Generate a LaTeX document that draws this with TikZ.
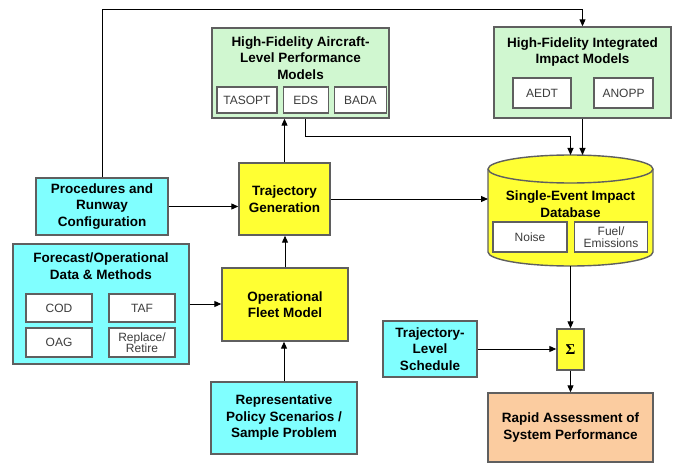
\documentclass[tikz,border=0pt]{standalone}
\usepackage{fontspec}
\setmainfont{Liberation Sans}
\newfontfamily\sigmafont{Liberation Serif}
\usetikzlibrary{arrows.meta,positioning}
\definecolor{boxcyan}{RGB}{128,255,255}
\definecolor{boxyellow}{RGB}{255,255,51}
\definecolor{boxgreen}{RGB}{208,247,208}
\definecolor{boxpeach}{RGB}{251,204,160}
\definecolor{boxborder}{RGB}{95,95,95}
\definecolor{toolgray}{RGB}{60,60,60}
\newcommand{\titlefont}{\fontsize{13.5}{16.5}\selectfont\bfseries}
\newcommand{\toolfont}{\fontsize{12}{11.5}\selectfont}

\begin{document}
\begin{tikzpicture}[->,>={Triangle[length=7pt,width=6pt]},x=1pt,y=-1pt,
  line width=1pt]
  \tikzstyle{box}=[rectangle,draw=boxborder,line width=1.4pt,inner sep=2pt,
    align=center,font=\titlefont]
  \tikzstyle{cyanbox}=[box,fill=boxcyan]
  \tikzstyle{yellowbox}=[box,fill=boxyellow]
  \tikzstyle{greenbox}=[box,fill=boxgreen]
  \tikzstyle{peachbox}=[box,fill=boxpeach]
  \tikzstyle{title}=[align=center,font=\titlefont,inner sep=0pt]
  \tikzstyle{tool}=[rectangle,draw=boxborder,line width=1.2pt,fill=white,
    inner sep=1pt,align=center,font=\toolfont,text=toolgray]

  \useasboundingbox (0,0) rectangle (679,465);

  % aircraft-level models
  \node[greenbox,minimum width=177pt,minimum height=90pt] (HFA) at (300.5,73) {};
  \node[title] (HFAt) at (300.5,58) {High-Fidelity Aircraft-\\Level Performance\\Models};
  \node[tool,minimum width=60pt,minimum height=26pt] (TASOPT) at (247,100) {TASOPT};
  \node[tool,minimum width=45pt,minimum height=26pt] (EDS) [right=5pt of TASOPT] {EDS};
  \node[tool,minimum width=52pt,minimum height=26pt] (BADA) [right=5pt of EDS] {BADA};

  % integrated impact models
  \node[greenbox,minimum width=177pt,minimum height=91pt] (HFI) at (582.5,72.5) {};
  \node[title] (HFIt) at (582.5,52) {High-Fidelity Integrated\\Impact Models};
  \node[tool,minimum width=58pt,minimum height=30pt] (AEDT) at (542,93) {AEDT};
  \node[tool,minimum width=59pt,minimum height=30pt] (ANOPP) at (623.5,93) {ANOPP};

  % database
  \filldraw[-,draw=boxborder,fill=boxyellow,line width=1.4pt]
    (488,169) -- (488,252) arc[start angle=180,end angle=0,x radius=82.5,y radius=14]
    -- (653,169) arc[start angle=0,end angle=-180,x radius=82.5,y radius=14] -- cycle;
  \draw[-,draw=boxborder,line width=1.4pt]
    (488,169) arc[start angle=180,end angle=0,x radius=82.5,y radius=14];
  \node[minimum width=165pt,minimum height=111pt,inner sep=0pt,outer sep=0pt] (DB) at (570.5,210.5) {};
  \node[title] (DBt) at (570.5,204) {Single-Event Impact\\Database};
  \node[tool,minimum width=74pt,minimum height=30pt] (NOISE) at (530,237) {Noise};
  \node[tool,minimum width=73pt,minimum height=30pt] (FUEL) at (611,237) {Fuel/\\Emissions};

  % main chain
  \node[yellowbox,minimum width=91pt,minimum height=72pt] (TG) at (284.5,199) {Trajectory\\Generation};
  \node[cyanbox,minimum width=132pt,minimum height=57pt] (PROC) at (102,206.5) {Procedures and\\Runway\\Configuration};

  \node[cyanbox,minimum width=176pt,minimum height=120pt] (FC) at (101,304) {};
  \node[title] (FCt) at (101,266) {Forecast/Operational\\Data \& Methods};
  \node[tool,minimum width=66pt,minimum height=28pt] (COD) at (59,308) {COD};
  \node[tool,minimum width=66pt,minimum height=28pt] (TAF) at (142,308) {TAF};
  \node[tool,minimum width=66pt,minimum height=29pt] (OAG) at (59,342.5) {OAG};
  \node[tool,minimum width=66pt,minimum height=29pt] (RR) at (142,342.5) {Replace/\\Retire};

  \node[yellowbox,minimum width=126pt,minimum height=73pt] (OFM) at (285,304.5) {Operational\\Fleet Model};
  \node[cyanbox,minimum width=146pt,minimum height=72pt] (REP) at (284,418) {Representative\\Policy Scenarios /\\Sample Problem};

  \node[cyanbox,minimum width=94pt,minimum height=56pt] (TLS) at (430,349) {Trajectory-\\Level\\Schedule};
  \node[yellowbox,minimum width=27pt,minimum height=41pt,inner sep=0pt] (SIG) at (570.5,349.5)
    {\sigmafont\fontsize{15}{15}\selectfont\bfseries Σ};
  \node[peachbox,minimum width=165pt,minimum height=69pt] (RAP) at (570.5,427.5) {Rapid Assessment of\\System Performance};

  \coordinate (TOP) at (0,10);
  \coordinate (MID) at (0,137);

  \draw (PROC.north) -- (PROC.north |- TOP) -| (HFI.north);
  \draw (EDS.south |- HFA.south) -- (EDS.south |- MID) -| (DB.north);

  \path
  (PROC.east) edge (PROC.east -| TG.west)
  (FC.east)   edge (FC.east -| OFM.west)
  (REP.north) edge (REP.north |- OFM.south)
  (OFM.north) edge (OFM.north |- TG.south)
  (TG.north)  edge (TG.north |- HFA.south)
  (TG.east)   edge (TG.east -| DB.west)
  (HFI.south) edge (HFI.south |- DB.north)
  (DB.south)  edge (SIG.north)
  (TLS.east)  edge (TLS.east -| SIG.west)
  (SIG.south) edge (RAP.north)
  ;
\end{tikzpicture}
\end{document}
